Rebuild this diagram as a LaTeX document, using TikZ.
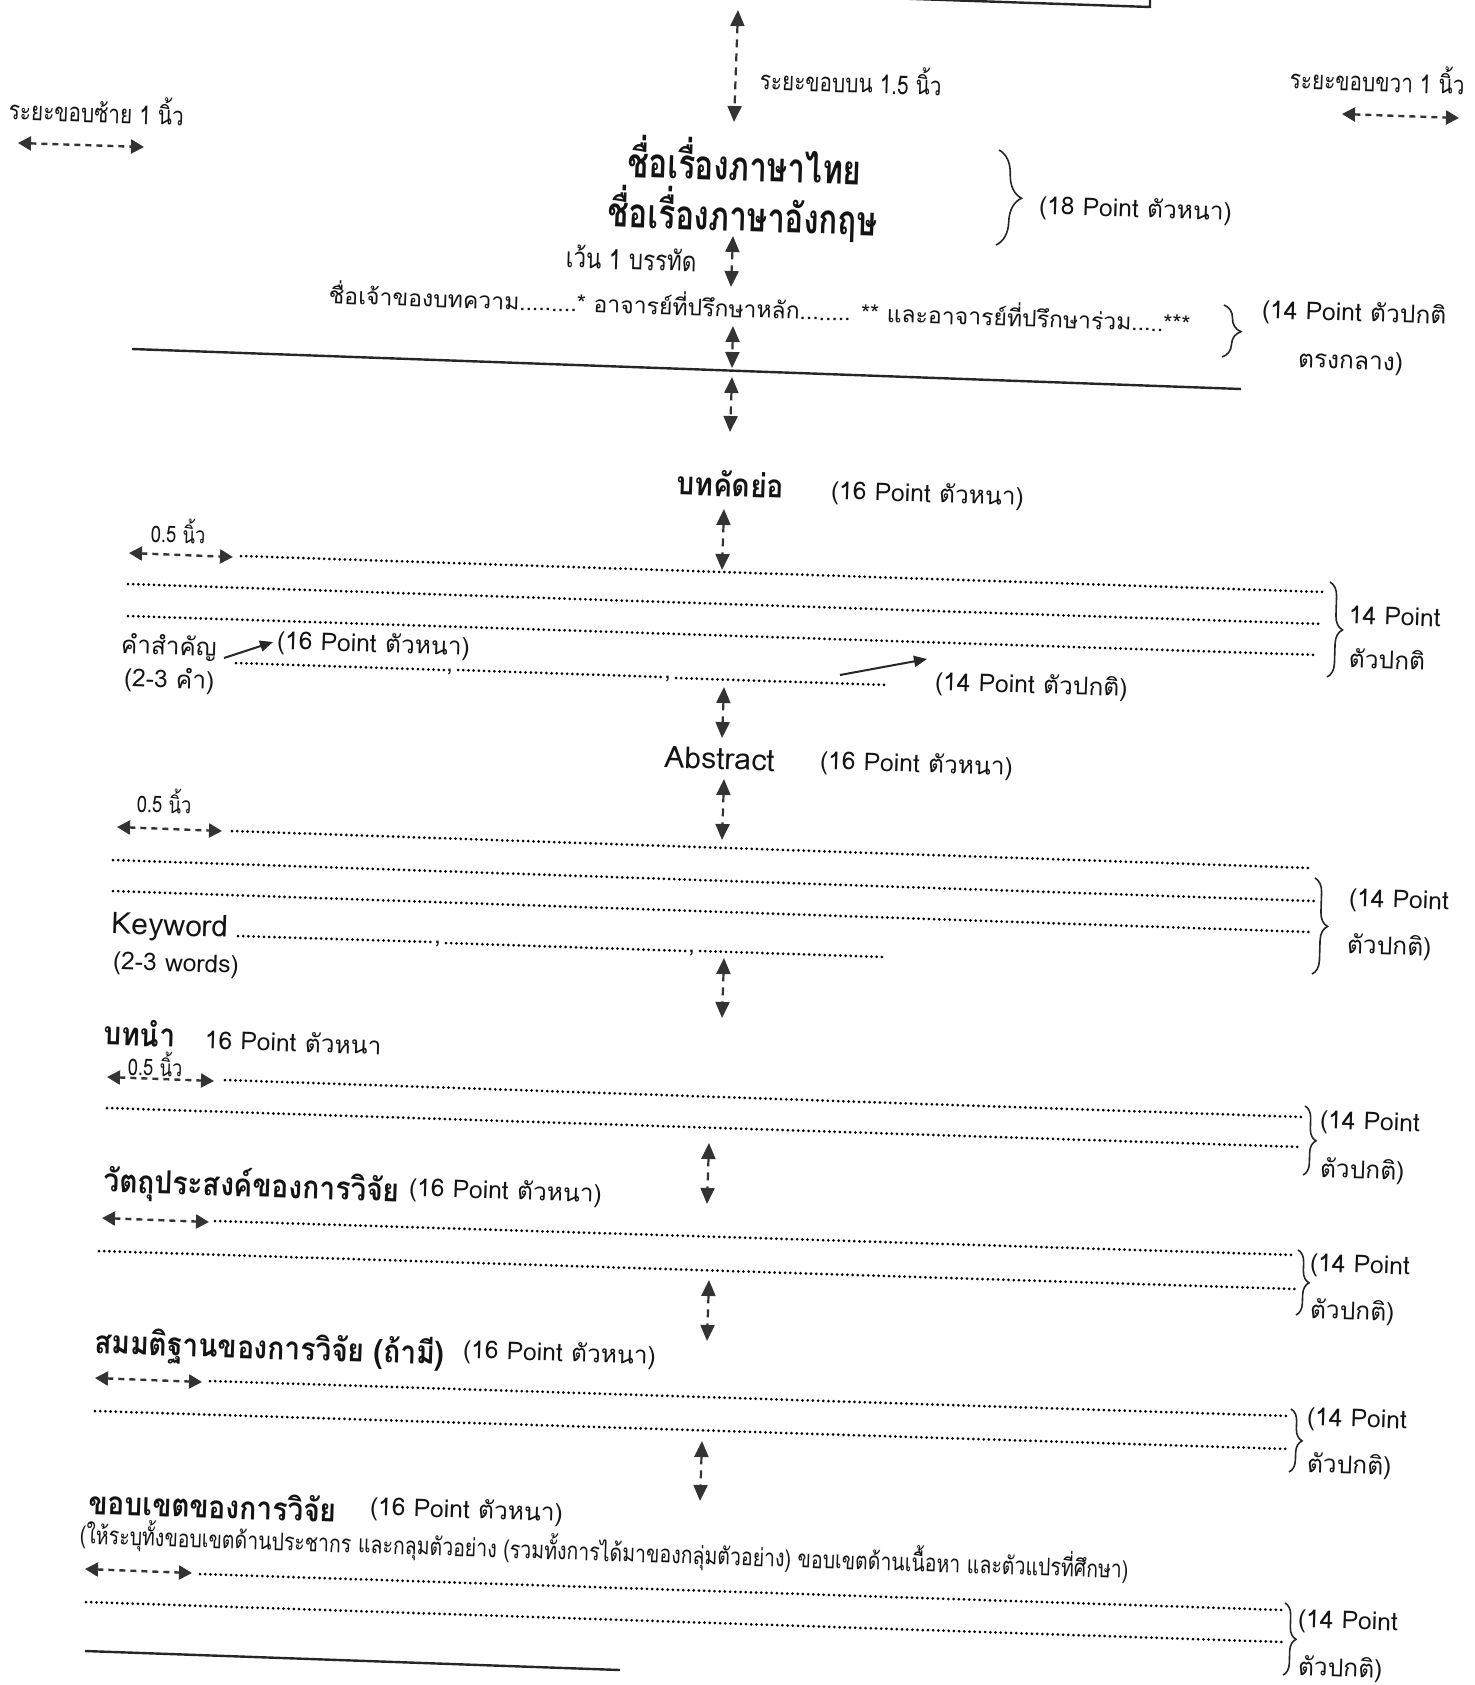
\documentclass[tikz,border=0pt]{standalone}
\usepackage{fontspec}
\setmainfont[Script=Thai]{Loma}
\newfontfamily\narfont[Script=Thai,FakeStretch=0.8]{Loma}
\newfontfamily\hdfont[Script=Thai,FakeStretch=0.88]{Loma}
\newfontfamily\ttlfont[Script=Thai,FakeStretch=0.76]{Loma}
\usetikzlibrary{arrows.meta,decorations.pathreplacing}
\begin{document}
\begin{tikzpicture}[x=0.5pt,y=-0.5pt,
  every node/.style={inner sep=0pt,outer sep=0pt,rotate=-1.9,anchor=west,text=black!92},
  ttl/.style={anchor=center,font=\ttlfont\bfseries\fontsize{20.5pt}{24pt}\selectfont},
  hd/.style={font=\hdfont\bfseries\fontsize{16pt}{19pt}\selectfont},
  kwd/.style={font=\fontsize{12.2pt}{15pt}\selectfont},
  lbl/.style={font=\fontsize{12.3pt}{14pt}\selectfont},
  en/.style={font=\fontsize{15pt}{17pt}\selectfont},
  sm/.style={font=\narfont\fontsize{13pt}{15pt}\selectfont},
  gp/.style={font=\narfont\fontsize{14pt}{16pt}\selectfont},
  tiny/.style={font=\narfont\fontsize{11.5pt}{13pt}\selectfont},
  auth/.style={font=\fontsize{11.5pt}{14pt}\selectfont},
  note/.style={font=\narfont\fontsize{12.2pt}{14pt}\selectfont},
  dotline/.style={draw=black,line width=1.5pt,line cap=round,dash pattern=on 0pt off 2.6pt},
  vdar/.style={draw=black!80,line width=1.1pt,dash pattern=on 4pt off 3pt,
     {Triangle[width=7pt,length=8pt]}-{Triangle[width=7pt,length=8pt]}},
  hdar/.style={draw=black!80,line width=1.2pt,dash pattern=on 3pt off 2.5pt,
     {Triangle[width=7pt,length=6.5pt]}-{Triangle[width=7pt,length=6.5pt]}},
  sar/.style={draw=black!85,line width=1pt,-{Triangle[width=5.5pt,length=6.5pt]}},
  solid line/.style={draw=black!85,line width=1.2pt},
  brc/.style={draw=black!85,line width=0.8pt,decorate,decoration={brace,amplitude=#1}},
]
\useasboundingbox (0,0) rectangle (1474,1685);
\fill[white] (0,0) rectangle (1474,1685);
\clip (0,0) rectangle (1474,1685);

% top box edge
\coordinate (b1) at (709,-8);
\coordinate (b2) at (1150,7);
\coordinate (b3) at (1150,-12);
\draw[solid line] (b1) -- (b2) -- (b3);

% margin labels and arrows
\node[sm] (tm) at (760,76) {ระยะขอบบน 1.5 นิ้ว};
\node[sm] (rm) at (1290,75) {ระยะขอบขวา 1 นิ้ว};
\node[sm] (lm) at (9,106) {ระยะขอบซ้าย 1 นิ้ว};
\coordinate (la1) at (18,143); \coordinate (la2) at (144,147);
\draw[hdar] (la1) -- (la2);
\coordinate (ra1) at (1342,114); \coordinate (ra2) at (1459,118);
\draw[hdar] (ra1) -- (ra2);
\coordinate (va1) at (738,10); \coordinate (va2) at (734,122);
\draw[vdar] (va1) -- (va2);

% titles
\node[ttl] (t1) at (745,160) {ชื่อเรื่องภาษาไทย};
\node[ttl] (t2) at (743,214) {ชื่อเรื่องภาษาอังกฤษ};
\coordinate (br1a) at (999,150); \coordinate (br1b) at (996,245);
\draw[brc=12pt] (br1a) -- (br1b);
\node[lbl] (p18) at (1039,207) {(18 Point ตัวหนา)};

\node[gp] (gap) at (566,256) {เว้น 1 บรรทัด};
\coordinate (vb1) at (733,236); \coordinate (vb2) at (731,287);
\draw[vdar] (vb1) -- (vb2);

\node[auth] (au) at (329,292) {ชื่อเจ้าของบทความ.........* อาจารย์ที่ปรึกษาหลัก........ ** และอาจารย์ที่ปรึกษาร่วม.....***};
\coordinate (br2a) at (1224,305); \coordinate (br2b) at (1222,357);
\draw[brc=9pt] (br2a) -- (br2b);
\node[lbl] (p14a) at (1262,311) {(14 Point ตัวปกติ};
\node[lbl] (p14b) at (1298,361) {ตรงกลาง)};

\coordinate (vc1) at (733,326); \coordinate (vc2) at (732,368);
\draw[vdar] (vc1) -- (vc2);
\coordinate (l1a) at (132,349); \coordinate (l1b) at (1241,389);
\draw[solid line] (l1a) -- (l1b);
\coordinate (vd1) at (732,377); \coordinate (vd2) at (730,432);
\draw[vdar] (vd1) -- (vd2);

% Thai abstract
\node[hd] (abth) at (677,482) {บทคัดย่อ};
\node[lbl] (p16a) at (831,492) {(16 Point ตัวหนา)};
\coordinate (ve1) at (724,509); \coordinate (ve2) at (722,570);
\draw[vdar] (ve1) -- (ve2);
\node[tiny] (h1) at (151,530) {0.5 นิ้ว};
\coordinate (ha1) at (129,553); \coordinate (ha2) at (233,557);
\draw[hdar] (ha1) -- (ha2);
\coordinate (d1a) at (241,556); \coordinate (d1b) at (1323,592);
\draw[dotline] (d1a) -- (d1b);
\coordinate (d2a) at (128,584); \coordinate (d2b) at (1323,624);
\draw[dotline] (d2a) -- (d2b);
\coordinate (d3a) at (128,616); \coordinate (d3b) at (1318,655);
\draw[dotline] (d3a) -- (d3b);
\coordinate (k1a) at (236,663); \coordinate (k1b) at (444,670);
\coordinate (k2a) at (458,670); \coordinate (k2b) at (662,677);
\coordinate (k3a) at (676,678); \coordinate (k3b) at (888,685);
\draw[dotline] (k1a) -- (k1b);
\draw[dotline] (k2a) -- (k2b);
\draw[dotline] (k3a) -- (k3b);
\node[lbl] (c1) at (446,672) {,};
\node[lbl] (c2) at (664,679) {,};
\coordinate (br3a) at (1330,582); \coordinate (br3b) at (1327,677);
\draw[brc=7pt] (br3a) -- (br3b);
\node[lbl] (p14c) at (1349,615) {14 Point};
\node[lbl] (p14d) at (1349,658) {ตัวปกติ};
\node[kwd] (kw) at (121,646) {คำสำคัญ};
\node[lbl] (kw2) at (124,679) {(2-3 คำ)};
\node[lbl] (p16b) at (277,642) {(16 Point ตัวหนา)};
\coordinate (s1a) at (224,658); \coordinate (s1b) at (273,642);
\draw[sar] (s1a) -- (s1b);
\node[lbl] (p14e) at (935,683) {(14 Point ตัวปกติ)};
\coordinate (s2a) at (840,675); \coordinate (s2b) at (927,659);
\draw[sar] (s2a) -- (s2b);
\coordinate (vf1) at (724,687); \coordinate (vf2) at (722,738);
\draw[vdar] (vf1) -- (vf2);

% English abstract
\node[en] (aben) at (665,757) {Abstract};
\node[lbl] (p16c) at (820,762) {(16 Point ตัวหนา)};
\coordinate (vg1) at (724,779); \coordinate (vg2) at (722,840);
\draw[vdar] (vg1) -- (vg2);
\node[tiny] (h2) at (137,800) {0.5 นิ้ว};
\coordinate (hb1) at (117,827); \coordinate (hb2) at (222,831);
\draw[hdar] (hb1) -- (hb2);
\coordinate (e1a) at (232,831); \coordinate (e1b) at (1309,868);
\draw[dotline] (e1a) -- (e1b);
\coordinate (e2a) at (113,860); \coordinate (e2b) at (1314,901);
\draw[dotline] (e2a) -- (e2b);
\coordinate (e3a) at (113,891); \coordinate (e3b) at (1309,932);
\draw[dotline] (e3a) -- (e3b);
\coordinate (m1a) at (238,936); \coordinate (m1b) at (432,942);
\coordinate (m2a) at (446,943); \coordinate (m2b) at (686,951);
\coordinate (m3a) at (700,951); \coordinate (m3b) at (884,957);
\draw[dotline] (m1a) -- (m1b);
\draw[dotline] (m2a) -- (m2b);
\draw[dotline] (m3a) -- (m3b);
\node[lbl] (c3) at (434,944) {,};
\node[lbl] (c4) at (688,953) {,};
\coordinate (br4a) at (1315,878); \coordinate (br4b) at (1312,974);
\draw[brc=7pt] (br4a) -- (br4b);
\node[lbl] (p14f) at (1349,900) {(14 Point};
\node[lbl] (p14g) at (1347,946) {ตัวปกติ)};
\node[en] (kwe) at (112,926) {Keyword};
\node[lbl] (kwe2) at (113,963) {(2-3 words)};
\coordinate (vh1) at (724,958); \coordinate (vh2) at (722,1018);
\draw[vdar] (vh1) -- (vh2);

% Introduction
\node[hd] (intro) at (104,1032) {บทนำ};
\node[lbl] (p16d) at (205,1039) {16 Point ตัวหนา};
\node[tiny] (h3) at (128,1063) {0.5 นิ้ว};
\coordinate (hc1) at (107,1077); \coordinate (hc2) at (214,1081);
\draw[hdar] (hc1) -- (hc2);
\coordinate (f1a) at (225,1080); \coordinate (f1b) at (1302,1117);
\draw[dotline] (f1a) -- (f1b);
\coordinate (f2a) at (107,1108); \coordinate (f2b) at (1302,1147);
\draw[dotline] (f2a) -- (f2b);
\coordinate (br5a) at (1305,1106); \coordinate (br5b) at (1303,1175);
\draw[brc=6pt] (br5a) -- (br5b);
\node[lbl] (p14h) at (1320,1122) {(14 Point};
\node[lbl] (p14i) at (1320,1170) {ตัวปกติ)};
\coordinate (vi1) at (709,1143); \coordinate (vi2) at (707,1204);
\draw[vdar] (vi1) -- (vi2);

% Objectives
\node[hd] (obj) at (104,1182) {วัตถุประสงค์ของการวิจัย};
\node[lbl] (p16e) at (409,1189) {(16 Point ตัวหนา)};
\coordinate (hd1) at (102,1218); \coordinate (hd2) at (209,1222);
\draw[hdar] (hd1) -- (hd2);
\coordinate (g1a) at (215,1221); \coordinate (g1b) at (1295,1255);
\draw[dotline] (g1a) -- (g1b);
\coordinate (g2a) at (99,1251); \coordinate (g2b) at (1295,1289);
\draw[dotline] (g2a) -- (g2b);
\coordinate (br6a) at (1298,1250); \coordinate (br6b) at (1296,1315);
\draw[brc=6pt] (br6a) -- (br6b);
\node[lbl] (p14j) at (1310,1265) {(14 Point};
\node[lbl] (p14k) at (1310,1311) {ตัวปกติ)};
\coordinate (vj1) at (709,1280); \coordinate (vj2) at (707,1341);
\draw[vdar] (vj1) -- (vj2);

% Hypotheses
\node[hd] (hyp) at (95,1344) {สมมติฐานของการวิจัย (ถ้ามี)};
\node[lbl] (p16f) at (463,1351) {(16 Point ตัวหนา)};
\coordinate (he1) at (95,1378); \coordinate (he2) at (202,1382);
\draw[hdar] (he1) -- (he2);
\coordinate (j1a) at (210,1381); \coordinate (j1b) at (1288,1416);
\draw[dotline] (j1a) -- (j1b);
\coordinate (j2a) at (95,1411); \coordinate (j2b) at (1288,1449);
\draw[dotline] (j2a) -- (j2b);
\coordinate (br7a) at (1291,1409); \coordinate (br7b) at (1289,1472);
\draw[brc=6pt] (br7a) -- (br7b);
\node[lbl] (p14l) at (1307,1419) {(14 Point};
\node[lbl] (p14m) at (1307,1465) {ตัวปกติ)};
\coordinate (vk1) at (702,1441); \coordinate (vk2) at (700,1501);
\draw[vdar] (vk1) -- (vk2);

% Scope
\node[hd] (scp) at (89,1501) {ขอบเขตของการวิจัย};
\node[lbl] (p16g) at (370,1508) {(16 Point ตัวหนา)};
\node[note] (nt) at (80,1534) {(ให้ระบุทั้งขอบเขตด้านประชากร และกลุมตัวอย่าง (รวมทั้งการได้มาของกลุ่มตัวอย่าง) ขอบเขตด้านเนื้อหา และตัวแปรที่ศึกษา)};
\coordinate (hf1) at (85,1569); \coordinate (hf2) at (192,1573);
\draw[hdar] (hf1) -- (hf2);
\coordinate (q1a) at (200,1574); \coordinate (q1b) at (1282,1610);
\draw[dotline] (q1a) -- (q1b);
\coordinate (q2a) at (86,1602); \coordinate (q2b) at (1282,1642);
\draw[dotline] (q2a) -- (q2b);
\coordinate (br8a) at (1285,1603); \coordinate (br8b) at (1283,1675);
\draw[brc=6pt] (br8a) -- (br8b);
\node[lbl] (p14n) at (1298,1621) {(14 Point};
\node[lbl] (p14o) at (1298,1668) {ตัวปกติ)};

\coordinate (l2a) at (85,1651); \coordinate (l2b) at (620,1670);
\draw[solid line] (l2a) -- (l2b);
\node[note] (rem) at (88,1696) {\textbf{หมายเหตุ}  การกำหนดชื่อเจ้าของบทความ};
\end{tikzpicture}
\end{document}
